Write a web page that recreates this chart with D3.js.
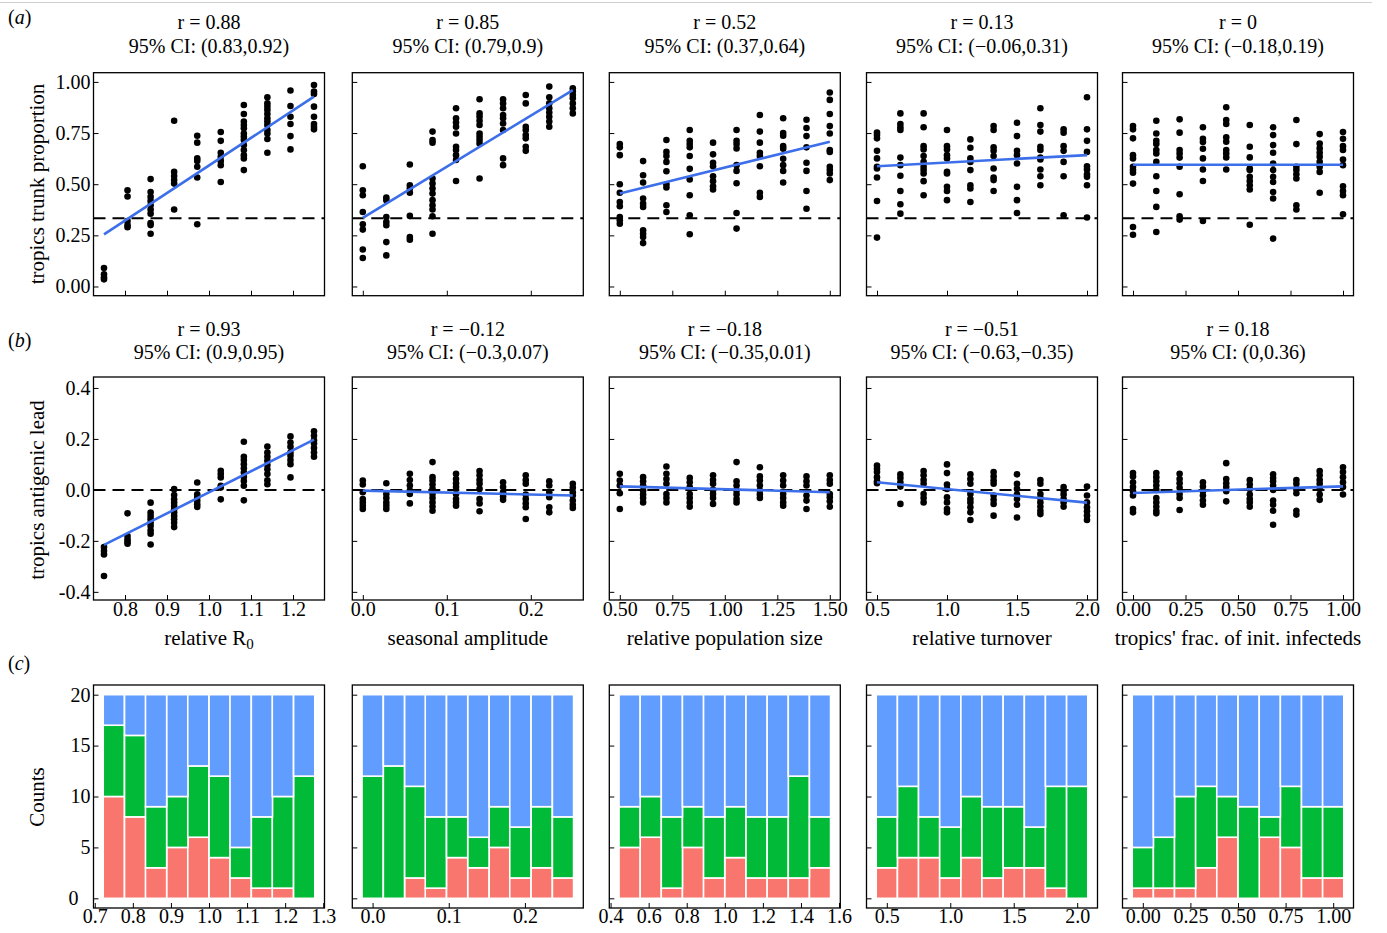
<!DOCTYPE html>
<html><head><meta charset="utf-8">
<script src="https://cdn.jsdelivr.net/npm/d3@7"></script>
<style>
body{margin:0;background:#fff}
svg{display:block}
</style>
</head><body>
<svg id="c" width="1387" height="933"></svg>
<script>
// ---------- DATA ----------
const groupsR0 = [0.75,0.806,0.861,0.917,0.972,1.028,1.083,1.139,1.194,1.25];
const groupsSeason = [0,0.028,0.056,0.083,0.111,0.139,0.167,0.194,0.222,0.25];
const groupsPop = [0.5,0.611,0.722,0.833,0.944,1.056,1.167,1.278,1.389,1.5];
const groupsTurn = [0.5,0.667,0.833,1,1.167,1.333,1.5,1.667,1.833,2];
const groupsFrac = [0,0.111,0.222,0.333,0.444,0.556,0.667,0.778,0.889,1];

const xLabels = ["relative R", "seasonal amplitude", "relative population size", "relative turnover", "tropics' frac. of init. infecteds"];

const trunkR0 = [
 [0.09,0.06,0.045,0.035],
 [0.47,0.44,0.32,0.30,0.29],
 [0.525,0.462,0.438,0.418,0.397,0.376,0.356,0.31,0.30,0.258],
 [0.81,0.56,0.54,0.52,0.503,0.376],
 [0.737,0.703,0.626,0.614,0.585,0.533,0.304],
 [0.755,0.712,0.654,0.634,0.614,0.593,0.511],
 [0.887,0.843,0.806,0.789,0.773,0.748,0.732,0.716,0.691,0.667,0.642,0.626,0.569],
 [0.925,0.895,0.879,0.863,0.843,0.822,0.806,0.789,0.765,0.748,0.721,0.654],
 [0.958,0.882,0.83,0.794,0.735,0.67],
 [0.985,0.953,0.941,0.879,0.83,0.794,0.781,0.768]
];
const trunkSeason = [
 [0.588,0.47,0.446,0.364,0.304,0.278,0.181,0.139],
 [0.435,0.422,0.34,0.315,0.299,0.217,0.152],
 [0.596,0.495,0.479,0.458,0.345,0.242,0.229],
 [0.757,0.716,0.703,0.528,0.503,0.479,0.454,0.422,0.397,0.376,0.343,0.258],
 [0.871,0.822,0.801,0.781,0.748,0.683,0.667,0.642,0.618,0.516],
 [0.915,0.846,0.83,0.81,0.789,0.748,0.732,0.716,0.699,0.528],
 [0.915,0.895,0.871,0.838,0.822,0.797,0.765,0.626,0.593],
 [0.936,0.895,0.781,0.765,0.74,0.724,0.683,0.663],
 [0.977,0.925,0.895,0.871,0.85,0.83,0.806,0.781],
 [0.969,0.953,0.936,0.92,0.895,0.871,0.846]
];
const trunkPop = [
 [0.696,0.68,0.642,0.5,0.458,0.413,0.392,0.34,0.324,0.307],
 [0.613,0.544,0.508,0.43,0.405,0.389,0.275,0.258,0.242,0.212],
 [0.716,0.658,0.638,0.609,0.563,0.5,0.484,0.397,0.364],
 [0.765,0.712,0.696,0.68,0.638,0.575,0.523,0.446,0.348,0.255],
 [0.703,0.646,0.605,0.588,0.539,0.515,0.49,0.474],
 [0.765,0.712,0.696,0.675,0.593,0.565,0.505,0.359,0.283],
 [0.838,0.757,0.703,0.654,0.638,0.588,0.458,0.438],
 [0.822,0.75,0.737,0.686,0.673,0.624,0.593,0.565,0.508],
 [0.815,0.775,0.735,0.68,0.605,0.565,0.467,0.38],
 [0.948,0.912,0.843,0.784,0.748,0.667,0.658,0.585,0.569,0.552,0.52]
];
const trunkTurn = [
 [0.753,0.74,0.724,0.663,0.626,0.585,0.577,0.533,0.418,0.239],
 [0.846,0.794,0.778,0.765,0.63,0.593,0.541,0.467,0.402,0.356],
 [0.846,0.778,0.686,0.67,0.638,0.609,0.585,0.569,0.552,0.515,0.446],
 [0.765,0.686,0.67,0.642,0.626,0.56,0.552,0.487,0.467,0.422],
 [0.719,0.678,0.626,0.609,0.569,0.495,0.479,0.413],
 [0.784,0.765,0.68,0.663,0.638,0.577,0.533,0.52,0.467],
 [0.8,0.735,0.663,0.642,0.601,0.487,0.422,0.359],
 [0.871,0.789,0.757,0.683,0.667,0.63,0.621,0.572,0.539,0.495],
 [0.768,0.752,0.686,0.663,0.609,0.539,0.348],
 [0.925,0.768,0.712,0.658,0.588,0.572,0.549,0.536,0.495,0.337]
];
const trunkFrac = [
 [0.784,0.768,0.724,0.642,0.626,0.585,0.569,0.556,0.503,0.291,0.253],
 [0.81,0.748,0.712,0.696,0.667,0.65,0.609,0.539,0.467,0.389,0.266],
 [0.817,0.752,0.667,0.65,0.63,0.585,0.451,0.343,0.327],
 [0.778,0.722,0.706,0.673,0.626,0.572,0.516,0.32],
 [0.876,0.814,0.794,0.729,0.708,0.667,0.65,0.631,0.572],
 [0.789,0.683,0.631,0.577,0.569,0.536,0.516,0.495,0.474,0.302],
 [0.778,0.74,0.691,0.654,0.601,0.569,0.536,0.511,0.462,0.43,0.234],
 [0.814,0.696,0.585,0.569,0.549,0.528,0.397,0.376],
 [0.745,0.699,0.675,0.654,0.634,0.609,0.585,0.56,0.458],
 [0.755,0.722,0.686,0.667,0.621,0.593,0.49,0.467,0.446,0.353]
];

const leadR0 = [
 [-0.224,-0.24,-0.253,-0.338],
 [-0.092,-0.181,-0.194,-0.203,-0.211],
 [-0.05,-0.089,-0.102,-0.115,-0.129,-0.142,-0.159,-0.172,-0.214],
 [0.003,-0.02,-0.037,-0.05,-0.063,-0.076,-0.089,-0.102,-0.115,-0.129,-0.146],
 [0.029,-0.017,-0.03,-0.043,-0.056,-0.067],
 [0.075,0.062,0.049,0.016,0.009,-0.037],
 [0.189,0.13,0.117,0.101,0.085,0.068,0.051,0.035,0.016,-0.041],
 [0.17,0.147,0.13,0.114,0.098,0.081,0.062,0.038,0.022],
 [0.21,0.186,0.169,0.147,0.134,0.117,0.101,0.049],
 [0.23,0.212,0.195,0.182,0.164,0.147,0.13]
];
const leadSeason = [
 [0.037,0.021,-0.009,-0.036,-0.049,-0.062,-0.075],
 [0.026,-0.016,-0.032,-0.049,-0.062,-0.075],
 [0.063,0.039,0.017,-0.003,-0.016,-0.053],
 [0.109,0.05,0.037,0.021,0.004,-0.016,-0.032,-0.049,-0.066,-0.082],
 [0.063,0.043,0.026,0.011,-0.016,-0.036,-0.049,-0.062],
 [0.074,0.057,0.039,0.024,0.004,-0.036,-0.053,-0.084],
 [0.03,0.011,-0.009,-0.026,-0.039],
 [0.057,0.039,0.024,-0.018,-0.036,-0.053,-0.068,-0.114],
 [0.034,0.017,-0.009,-0.029,-0.068,-0.088],
 [0.024,0.008,-0.009,-0.022,-0.042,-0.058,-0.071]
];
const leadPop = [
 [0.063,0.037,0.017,-0.013,-0.075],
 [0.05,0.034,0.017,-0.003,-0.018,-0.032,-0.049],
 [0.092,0.063,0.043,0.024,-0.016,-0.032,-0.049],
 [0.047,0.03,0.011,-0.016,-0.032,-0.049,-0.066],
 [0.057,0.039,0.024,0,-0.016,-0.032,-0.055],
 [0.109,0.034,0.017,-0.003,-0.018,-0.036,-0.049],
 [0.089,0.053,0.037,0.017,-0.003,-0.018,-0.032],
 [0.057,0.037,0.017,-0.016,-0.032,-0.049,-0.062],
 [0.053,0.034,0.017,-0.022,-0.042,-0.075],
 [0.057,0.039,0.024,-0.016,-0.029,-0.045,-0.066]
];
const leadTurn = [
 [0.096,0.083,0.07,0.05,0.034,0.026],
 [0.061,0.047,0.03,0.013,-0.055],
 [0.074,0.057,0.039,0.024,-0.016,-0.032,-0.049],
 [0.1,0.066,0.021,0.004,-0.029,-0.049,-0.075,-0.088],
 [0.061,0.043,0.024,-0.016,-0.036,-0.049,-0.068,-0.088,-0.118],
 [0.07,0.053,0.037,0.024,-0.022,-0.039,-0.055,-0.101],
 [0.061,0.024,0.004,-0.018,-0.036,-0.058,-0.108],
 [0.039,0.024,-0.016,-0.032,-0.049,-0.066,-0.082,-0.095],
 [0.011,-0.003,-0.018,-0.036,-0.049,-0.066],
 [0.013,-0.022,-0.049,-0.068,-0.084,-0.101,-0.118]
];
const leadFrac = [
 [0.066,0.053,0.03,0.011,-0.005,-0.022,-0.075,-0.088],
 [0.066,0.05,0.034,0.017,0,-0.032,-0.049,-0.066,-0.082,-0.092],
 [0.063,0.043,0.026,0.008,-0.016,-0.032,-0.079],
 [0.03,0.013,-0.005,-0.022,-0.042,-0.058],
 [0.105,0.043,0.026,0.011,-0.005,-0.045],
 [0.039,0.021,0.004,-0.018,-0.036,-0.049,-0.066],
 [0.061,0.047,0.034,0.017,0,-0.042,-0.058,-0.082,-0.137],
 [0.039,0.024,0.004,-0.013,-0.082,-0.097],
 [0.074,0.057,0.039,0.024,0.004,-0.018,-0.039],
 [0.089,0.07,0.05,0.03,0.011,-0.018]
];

// fitted regression line values at first and last group
const fitTrunk = [[0.255,0.928],[0.335,0.96],[0.454,0.708],[0.588,0.642],[0.595,0.595]];
const fitLead = [[-0.216,0.197],[-0.003,-0.022],[0.014,-0.009],[0.03,-0.05],[-0.012,0.014]];

const titleR_A = ["r = 0.88","r = 0.85","r = 0.52","r = 0.13","r = 0"];
const titleCI_A = ["95% CI: (0.83,0.92)","95% CI: (0.79,0.9)","95% CI: (0.37,0.64)","95% CI: (\u22120.06,0.31)","95% CI: (\u22120.18,0.19)"];
const titleR_B = ["r = 0.93","r = \u22120.12","r = \u22120.18","r = \u22120.51","r = 0.18"];
const titleCI_B = ["95% CI: (0.9,0.95)","95% CI: (\u22120.3,0.07)","95% CI: (\u22120.35,0.01)","95% CI: (\u22120.63,\u22120.35)","95% CI: (0,0.36)"];

// counts (stack order bottom -> top: red, green, blue)
const countRedR0 = [10,8,3,5,6,4,2,1,1,0];
const countGreenR0 = [7,8,6,5,7,8,3,7,9,12];
const countBlueR0 = [3,4,11,10,7,8,15,12,10,8];
const countRedSeason = [0,0,2,1,4,3,5,2,3,2];
const countGreenSeason = [12,13,9,7,4,3,4,5,6,6];
const countBlueSeason = [8,7,9,12,12,14,11,13,11,12];
const countRedPop = [5,6,1,5,2,4,2,2,2,3];
const countGreenPop = [4,4,7,4,6,5,6,6,10,5];
const countBluePop = [11,10,12,11,12,11,12,12,8,12];
const countRedTurn = [3,4,4,2,4,2,3,3,1,0];
const countGreenTurn = [5,7,4,5,6,7,6,4,10,11];
const countBlueTurn = [12,9,12,13,10,11,11,13,9,9];
const countRedFrac = [1,1,1,3,6,0,6,5,2,2];
const countGreenFrac = [4,5,9,8,4,9,2,6,7,7];
const countBlueFrac = [15,14,10,9,10,11,12,9,11,11];

// tick values
const xTicksScatter = [[0.8,0.9,1.0,1.1,1.2],[0,0.1,0.2],[0.5,0.75,1,1.25,1.5],[0.5,1,1.5,2],[0,0.25,0.5,0.75,1]];
const xTickDigitsScatter = [1,1,2,1,2];
const xTicksBars = [[0.7,0.8,0.9,1.0,1.1,1.2,1.3],[0,0.1,0.2],[0.4,0.6,0.8,1.0,1.2,1.4,1.6],[0.5,1,1.5,2],[0,0.25,0.5,0.75,1]];
const xTickDigitsBars = [1,1,1,1,2];
const yTicksTrunk = [0,0.25,0.5,0.75,1];
const yTicksLead = [-0.4,-0.2,0,0.2,0.4];
const yTicksCounts = [0,5,10,15,20];

// ---------- LAYOUT ----------
const FONT = '"Liberation Serif","Times New Roman",Times,serif';
const panelX = [93.5, 352.3, 609.3, 866.5, 1122.5];
const panelW = 231;
const rowTop = [72.7, 377, 685];
const rowH = 223;
const BLUE = "#3d6fea";
const COLORS = ["#F8766D","#00BA38","#619CFF"];

const groups = [groupsR0, groupsSeason, groupsPop, groupsTurn, groupsFrac];
const trunk = [trunkR0, trunkSeason, trunkPop, trunkTurn, trunkFrac];
const lead = [leadR0, leadSeason, leadPop, leadTurn, leadFrac];
const counts = [
  [countRedR0,countGreenR0,countBlueR0],
  [countRedSeason,countGreenSeason,countBlueSeason],
  [countRedPop,countGreenPop,countBluePop],
  [countRedTurn,countGreenTurn,countBlueTurn],
  [countRedFrac,countGreenFrac,countBlueFrac]
];

const svg = d3.select("#c");
svg.append("line").attr("x1",0).attr("x2",1372).attr("y1",2.5).attr("y2",2.5)
  .attr("stroke","#cfcfcf").attr("stroke-width",1);

function styleAxis(g){
  g.select(".domain").remove();
  g.attr("font-family",null).attr("font-size",null);
  g.selectAll("line").attr("stroke","#000").attr("stroke-width",1);
  g.selectAll("text").attr("font-family",FONT).attr("font-size",20).attr("fill","#000");
}

function fmt(d, digits){ return d.toFixed(digits); }

function frame(x0, y0){
  svg.append("rect").attr("x",x0).attr("y",y0).attr("width",panelW).attr("height",rowH)
    .attr("fill","none").attr("stroke","#000").attr("stroke-width",1.3);
}

function scatterPanel(row, i, data, ydom, yticks, ydigits, fit, dashY){
  const x0 = panelX[i], y0 = rowTop[row];
  const g = groups[i];
  const gmin = d3.min(g), gmax = d3.max(g), pad = 0.05*(gmax-gmin);
  const x = d3.scaleLinear().domain([gmin-pad, gmax+pad]).range([x0, x0+panelW]);
  const y = d3.scaleLinear().domain(ydom).range([y0+rowH, y0]);
  const root = svg.append("g");
  root.append("line").attr("x1",x0).attr("x2",x0+panelW).attr("y1",y(dashY)).attr("y2",y(dashY))
    .attr("stroke","#000").attr("stroke-width",2).attr("stroke-dasharray","12,7");
  const pts = [];
  data.forEach((vals,k)=>vals.forEach(v=>pts.push([g[k],v])));
  root.selectAll("circle.p").data(pts).join("circle")
    .attr("cx",d=>x(d[0])).attr("cy",d=>y(d[1])).attr("r",3.3).attr("fill","#000");
  const line = d3.line().x(d=>x(d[0])).y(d=>y(d[1]));
  root.append("path").attr("d",line([[gmin,fit[0]],[gmax,fit[1]]]))
    .attr("stroke",BLUE).attr("stroke-width",2.6).attr("fill","none");
  const ay = d3.axisLeft(y).tickValues(yticks).tickSizeInner(-5).tickSizeOuter(0).tickPadding(3)
    .tickFormat(i===0 ? (d=>fmt(d,ydigits)) : (()=>""));
  root.append("g").attr("transform",`translate(${x0},0)`).call(ay).call(styleAxis);
  const ax = d3.axisBottom(x).tickValues(xTicksScatter[i]).tickSizeInner(-5).tickSizeOuter(0).tickPadding(2)
    .tickFormat(row===1 ? (d=>fmt(d,xTickDigitsScatter[i])) : (()=>""));
  root.append("g").attr("transform",`translate(0,${y0+rowH})`).call(ax).call(styleAxis);
  frame(x0,y0);
}

function barPanel(i){
  const x0 = panelX[i], y0 = rowTop[2];
  const g = groups[i];
  const step = (d3.max(g)-d3.min(g))/(g.length-1);
  const lo = d3.min(g)-step/2, hi = d3.max(g)+step/2, pad = 0.046*(hi-lo);
  const x = d3.scaleLinear().domain([lo-pad, hi+pad]).range([x0, x0+panelW]);
  const y = d3.scaleLinear().domain([-0.95, 20.95]).range([y0+rowH, y0]);
  const rows = g.map((v,k)=>({x:v, red:counts[i][0][k], green:counts[i][1][k], blue:counts[i][2][k]}));
  const stack = d3.stack().keys(["red","green","blue"])(rows);
  const root = svg.append("g");
  stack.forEach((layer,li)=>{
    root.selectAll(null).data(layer).join("rect")
      .attr("x",d=>x(d.data.x-step/2)).attr("width",d=>x(d.data.x+step/2)-x(d.data.x-step/2))
      .attr("y",d=>y(d[1])).attr("height",d=>y(d[0])-y(d[1]))
      .attr("fill",COLORS[li]).attr("stroke","#fff").attr("stroke-width",1.6);
  });
  const ay = d3.axisLeft(y).tickValues(yTicksCounts).tickSizeInner(-5).tickSizeOuter(0).tickPadding(3)
    .tickFormat(i===0 ? (d=>String(d)) : (()=>""));
  const gy = root.append("g").attr("transform",`translate(${x0},0)`).call(ay).call(styleAxis);
  if(i===0){
    // the lowest label sits left of the corner, clear of the x tick label below it
    gy.selectAll(".tick").filter(d=>d===0).select("text").attr("x",-15);
  }
  const ax = d3.axisBottom(x).tickValues(xTicksBars[i]).tickSizeInner(-5).tickSizeOuter(0).tickPadding(1)
    .tickFormat(d=>fmt(d,xTickDigitsBars[i]));
  root.append("g").attr("transform",`translate(0,${y0+rowH})`).call(ax).call(styleAxis);
  frame(x0,y0);
}

for(let i=0;i<5;i++){
  scatterPanel(0,i,trunk[i],[-0.045,1.045],yTicksTrunk,2,fitTrunk[i],1/3);
  scatterPanel(1,i,lead[i],[-0.432,0.443],yTicksLead,1,fitLead[i],0);
  barPanel(i);
}

function txt(x,y,s,size,anchor){
  return svg.append("text").attr("x",x).attr("y",y).attr("font-family",FONT)
    .attr("font-size",size).attr("text-anchor",anchor||"middle").attr("fill","#000").text(s);
}
for(let i=0;i<5;i++){
  const cx = panelX[i]+panelW/2;
  txt(cx,29,titleR_A[i],20);
  txt(cx,53,titleCI_A[i],20);
  txt(cx,336,titleR_B[i],20);
  txt(cx,359,titleCI_B[i],20);
  const t = txt(cx,645,xLabels[i],21);
  if(i===0){ t.append("tspan").attr("font-size",15).attr("dy",4).text("0"); }
}

[["a",24],["b",347],["c",670]].forEach(([l,y])=>{
  const t = svg.append("text").attr("x",8).attr("y",y).attr("font-family",FONT).attr("font-size",20).attr("fill","#000");
  t.append("tspan").text("(");
  t.append("tspan").attr("font-style","italic").text(l);
  t.append("tspan").text(")");
});

[["tropics trunk proportion",184],["tropics antigenic lead",490],["Counts",797]].forEach(([s,cy])=>{
  svg.append("text").attr("transform",`translate(44,${cy}) rotate(-90)`).attr("text-anchor","middle")
    .attr("font-family",FONT).attr("font-size",21).attr("fill","#000").text(s);
});
</script>
</body></html>
